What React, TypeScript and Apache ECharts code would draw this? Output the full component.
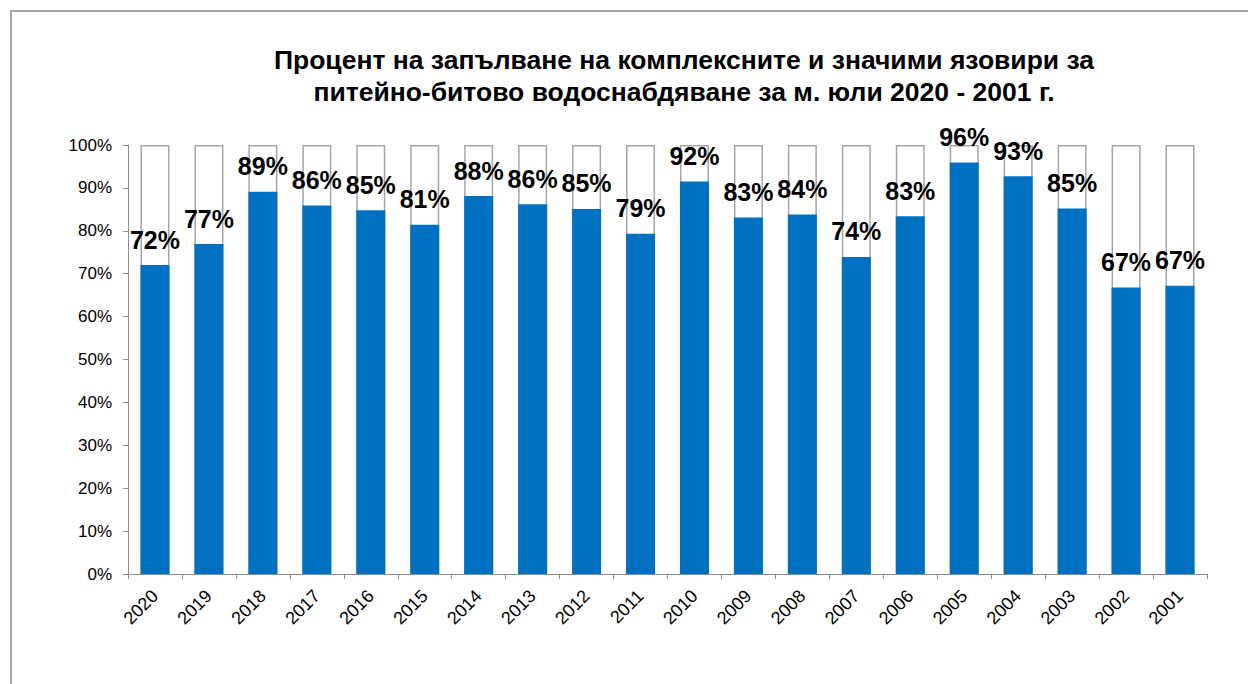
import React, { useEffect, useRef } from "react";
import * as echarts from "echarts";

const years = ["2020", "2019", "2018", "2017", "2016", "2015", "2014", "2013", "2012", "2011", "2010", "2009", "2008", "2007", "2006", "2005", "2004", "2003", "2002", "2001"];
const fillPercent = [72.0, 76.9, 89.1, 85.9, 84.8, 81.4, 88.1, 86.2, 85.1, 79.3, 91.5, 83.1, 83.8, 73.9, 83.4, 95.9, 92.7, 85.2, 66.8, 67.2];
const capacity = years.map(() => 100);
const titleText = "Процент на запълване на комплексните и значими язовири за\nпитейно-битово водоснабдяване за м. юли 2020 - 2001 г.";

const FONT = "'Liberation Sans', Arial, sans-serif";

export default function App() {
  const ref = useRef<HTMLDivElement>(null);
  useEffect(() => {
    if (!ref.current) return;
    const chart = echarts.init(ref.current, undefined, { renderer: "svg" });
    chart.setOption({
      animation: false,
      backgroundColor: "#ffffff",
      textStyle: { fontFamily: FONT },
      title: {
        text: titleText,
        left: 679,
        top: 39,
        textAlign: "center",
        textStyle: { fontFamily: FONT, fontSize: 26.5, fontWeight: "bold", color: "#000", lineHeight: 32 },
      },
      graphic: [
        {
          type: "rect",
          shape: { x: 11, y: 11, width: 2000, height: 2000 },
          style: { fill: "none", stroke: "#a6a6a6", lineWidth: 2 },
          silent: true,
        },
      ],
      grid: { left: 128, right: 41, top: 145, bottom: 110 },
      xAxis: {
        type: "category",
        data: years,
        axisLine: { lineStyle: { color: "#8c8c8c", width: 1 } },
        axisTick: { show: true, length: 5, interval: 0, lineStyle: { color: "#8c8c8c" } },
        axisLabel: { rotate: 45, interval: 0, fontSize: 18, color: "#000", margin: 19, fontFamily: FONT },
      },
      yAxis: {
        type: "value",
        min: 0,
        max: 100,
        interval: 10,
        axisLine: { show: true, lineStyle: { color: "#8c8c8c", width: 1 } },
        axisTick: { show: true, length: 5, lineStyle: { color: "#8c8c8c" } },
        splitLine: { show: false },
        axisLabel: { formatter: "{value}%", fontSize: 17, color: "#000", margin: 16, fontFamily: FONT },
      },
      series: [
        {
          type: "bar",
          data: capacity,
          barWidth: 29,
          barGap: "-100%",
          itemStyle: { color: "#ffffff", borderColor: "#a6a6a6", borderWidth: 1.5 },
          silent: true,
          z: 1,
        },
        {
          type: "bar",
          data: fillPercent,
          barWidth: 29,
          itemStyle: { color: "#0070c0" },
          z: 2,
          label: {
            show: true,
            position: "top",
            distance: 13,
            formatter: (p: any) => Math.round(p.value) + "%",
            fontSize: 25,
            fontWeight: "bold",
            color: "#000",
            fontFamily: FONT,
          },
        },
      ],
    });
    return () => chart.dispose();
  }, []);
  return <div ref={ref} style={{ position: "absolute", left: 0, top: 0, width: 1248, height: 684 }} />;
}
